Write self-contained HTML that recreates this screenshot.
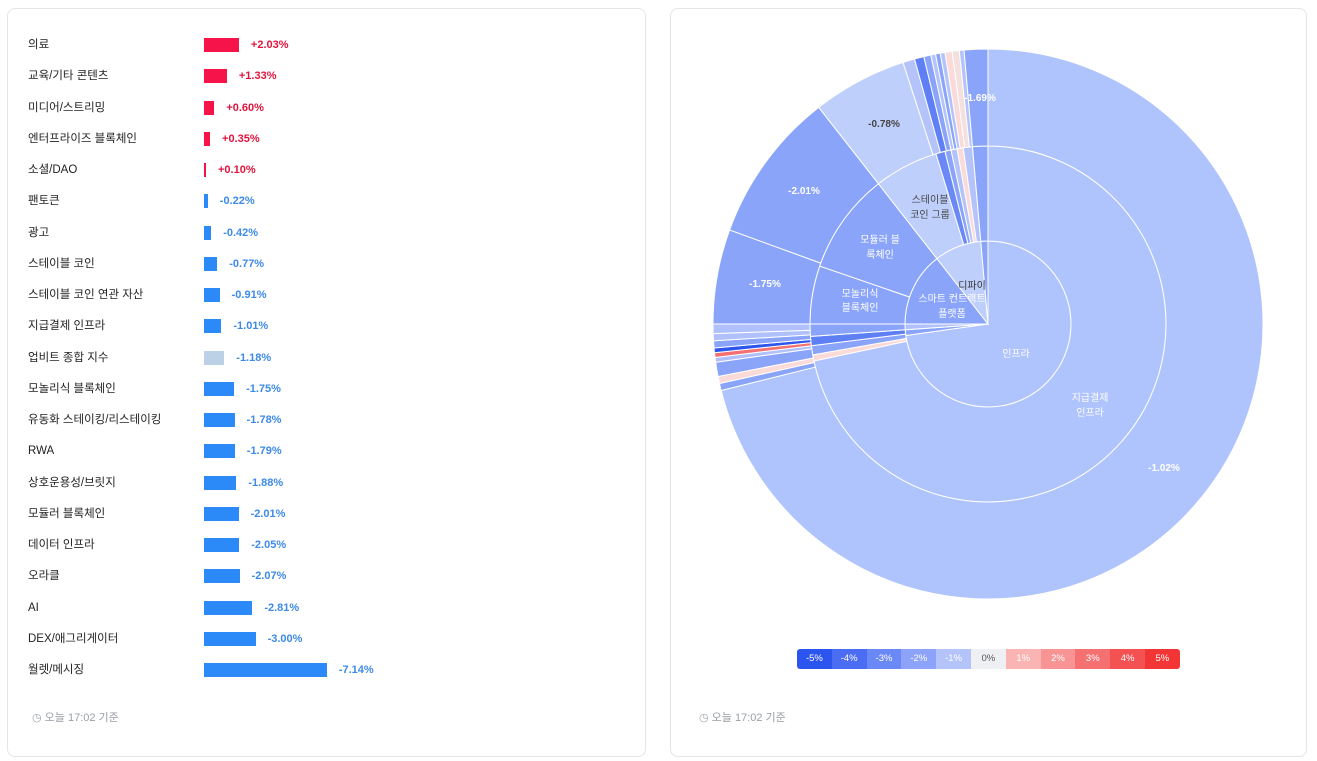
<!DOCTYPE html>
<html><head><meta charset="utf-8">
<style>
body{margin:0;width:1317px;height:761px;background:#fff;font-family:"Liberation Sans","Noto Sans CJK KR",sans-serif;position:relative;overflow:hidden}
.card{position:absolute;border:1px solid #e3e5e8;border-radius:8px;background:#fff}
.row{position:absolute;left:28px;height:14px;font-size:11.5px;color:#222}
.lab{position:absolute;left:0;top:0;line-height:14px;white-space:nowrap}
.bar{position:absolute;top:0;height:14px}
.val{position:absolute;top:0;line-height:14px;font-size:11px;font-weight:bold;white-space:nowrap}
.foot{position:absolute;font-size:11px;color:#9aa0a6}
.leg{position:absolute;left:797px;top:649px;height:20px;display:flex;border-radius:3px;overflow:hidden}
.leg div{width:34.8px;font-size:9.5px;line-height:20px;text-align:center;color:#fff}
</style></head><body>
<div class="card" style="left:7px;top:8px;width:637px;height:747px"></div>
<div class="card" style="left:670px;top:8px;width:635px;height:747px"></div>
<div id="rows"></div>
<div class="foot" style="left:32px;top:709px">◷ 오늘 17:02 기준</div>
<div class="foot" style="left:699px;top:709px">◷ 오늘 17:02 기준</div>
<svg id="sb" style="position:absolute;left:0;top:0" width="1317" height="761"></svg>
<div class="leg">
<div style="background:#2c55f0">-5%</div><div style="background:#4a6df3">-4%</div><div style="background:#6a88f6">-3%</div><div style="background:#8ca3f9">-2%</div><div style="background:#b4c4fb">-1%</div><div style="background:#eef0f4;color:#555">0%</div><div style="background:#fbb4b4">1%</div><div style="background:#f89494">2%</div><div style="background:#f57171">3%</div><div style="background:#f45252">4%</div><div style="background:#f23535">5%</div>
</div>
<script>
var d=[["의료",2.03],["교육/기타 콘텐츠",1.33],["미디어/스트리밍",0.60],["엔터프라이즈 블록체인",0.35],["소셜/DAO",0.10],["팬토큰",-0.22],["광고",-0.42],["스테이블 코인",-0.77],["스테이블 코인 연관 자산",-0.91],["지급결제 인프라",-1.01],["업비트 종합 지수",-1.18],["모놀리식 블록체인",-1.75],["유동화 스테이킹/리스테이킹",-1.78],["RWA",-1.79],["상호운용성/브릿지",-1.88],["모듈러 블록체인",-2.01],["데이터 인프라",-2.05],["오라클",-2.07],["AI",-2.81],["DEX/애그리게이터",-3.00],["월렛/메시징",-7.14]];
var h="";
d.forEach(function(r,i){var v=r[1],w=Math.max(2,Math.abs(v)*17.2),y=38+i*31.25;
var c=v>0?"#f5134a":(i==10?"#bcd0e6":"#2b8af7"),tc=v>0?"#e0143c":"#3d8ae8";
h+='<div class="row" style="top:'+y+'px"><div class="lab">'+r[0]+'</div><div class="bar" style="left:176px;width:'+w+'px;background:'+c+'"></div><div class="val" style="left:'+(176+w+12)+'px;color:'+tc+'">'+(v>0?"+":"")+v.toFixed(2)+'%</div></div>';});
document.getElementById("rows").innerHTML=h;
var cx=988,cy=324,s="";
function P(r,a){a=a*Math.PI/180;return[cx+r*Math.sin(a),cy-r*Math.cos(a)];}
function arc(r0,r1,a0,a1,f){var p1=P(r1,a0),p2=P(r1,a1),p3=P(r0,a1),p4=P(r0,a0),l=(a1-a0)>180?1:0;
var dd="M"+p1+" A"+r1+","+r1+" 0 "+l+" 1 "+p2+" L"+p3+(r0>0?" A"+r0+","+r0+" 0 "+l+" 0 "+p4:"")+"Z";
s+='<path d="'+dd+'" fill="'+f+'" stroke="#fff" stroke-width="1"/>';}
var L="#afc3fd",M="#8aa4fa",S="#bfcffc";
arc(0,83,0,262,L);arc(0,83,262,266,"#8aa4fa");arc(0,83,266,270,"#b0c0fc");arc(0,83,270,322,M);arc(0,83,322,355,S);arc(0,83,355,360,M);
arc(83,178,0,258,L);arc(83,178,258,260,"#fbdada");arc(83,178,260,263,"#8aa4fa");arc(83,178,263,266,"#5f80f5");arc(83,178,266,270,"#8aa4fa");
arc(83,178,270,289,M);arc(83,178,289,322,M);arc(83,178,322,343,S);arc(83,178,343,346,"#6a88f6");arc(83,178,346,348,"#8aa4fa");arc(83,178,348,350,"#b4c4fb");arc(83,178,350,352,"#fbdada");arc(83,178,352,355,"#b4c4fb");arc(83,178,355,360,M);
arc(178,275,0,256,L);arc(178,275,256,257.5,M);arc(178,275,257.5,259,"#fbdada");arc(178,275,259,262,M);arc(178,275,262,263,"#b0c0fc");arc(178,275,263,264,"#f57171");arc(178,275,264,265,"#2c55f0");arc(178,275,265,266.5,M);arc(178,275,266.5,268,"#b0c0fc");arc(178,275,268,270,"#b0c0fc");
arc(178,275,270,290,M);arc(178,275,290,322,M);arc(178,275,322,342,S);arc(178,275,342,344.5,"#b4c4fb");arc(178,275,344.5,346.5,"#5f80f5");arc(178,275,346.5,348,M);arc(178,275,348,349,"#b4c4fb");arc(178,275,349,350,"#8aa4fa");arc(178,275,350,351,"#b4c4fb");arc(178,275,351,352.5,"#fbdada");arc(178,275,352.5,354,"#f5e0e0");arc(178,275,354,355,"#b4c4fb");arc(178,275,355,360,M);
function T(x,y,t,c,b){s+='<text x="'+x+'" y="'+y+'" font-size="10" text-anchor="middle" fill="'+(c||"#fff")+'"'+(b?' font-weight="bold"':'')+' font-family="Liberation Sans,Noto Sans CJK KR,sans-serif">'+t+'</text>';}
T(1016,357,"인프라");T(1090,401,"지급결제");T(1090,416,"인프라");T(1164,471,"-1.02%","#fff",1);
T(880,243,"모듈러 블");T(880,258,"록체인");T(860,297,"모놀리식");T(860,311,"블록체인");
T(930,203,"스테이블","#444");T(930,218,"코인 그룹","#444");T(972,289,"디파이","#333");T(952,302,"스마트 컨트랙트");T(952,317,"플랫폼");
T(804,194,"-2.01%","#fff",1);T(765,287,"-1.75%","#fff",1);T(884,127,"-0.78%","#444",1);T(980,101,"-1.69%","#fff",1);
document.getElementById("sb").innerHTML=s;
</script>
</body></html>
